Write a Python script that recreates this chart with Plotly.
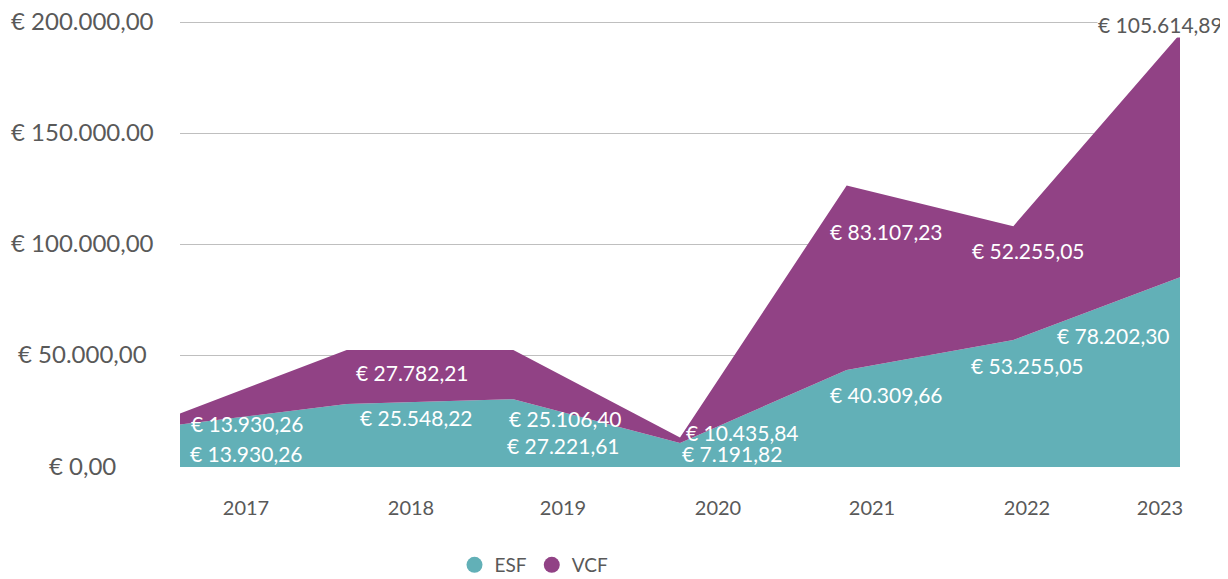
import plotly.graph_objects as go

# ---------------- data ----------------
years = ["2017", "2018", "2019", "2020", "2021", "2022", "2023"]
# values as drawn
esf_values = [19100, 28300, 30500, 10800, 43600, 57100, 85300]
vcf_values = [5000, 24300, 22100, 2500, 83000, 51200, 109400]
# data label texts as printed on the chart
esf_labels = ["€ 13.930,26", "€ 25.548,22", "€ 27.221,61", "€ 7.191,82",
              "€ 40.309,66", "€ 53.255,05", "€ 78.202,30"]
vcf_labels = ["€ 13.930,26", "€ 27.782,21", "€ 25.106,40", "€ 10.435,84",
              "€ 83.107,23", "€ 52.255,05", "€ 105.614,89"]
y_tick_values = [0, 50000, 100000, 150000, 200000]
y_tick_labels = ["€ 0,00", "€ 50.000,00", "€ 100.000,00", "€ 150.000.00", "€ 200.000,00"]

# ---------------- layout constants ----------------
OFF = 8  # default page body margin
W, H = 1220, 579
ML, MR, MT, MB = 172, 48, 12, 120
PW, PH = W - ML - MR, H - MT - MB
Y_MAX = 201000  # a little above the top gridline so it is drawn
FONT = "Lato"
GREY = "#595959"
TEAL = "#62B0B7"
PURPLE = "#914285"

# x positions of the category labels (in axis units)
xlabel_pos = [0.396, 1.386, 2.298, 3.228, 4.152, 5.082, 5.88]
# data label centres in page pixels
esf_label_px = [(246, 453), (416, 417), (563, 445), (732, 453), (886, 394), (1027, 365), (1113, 335)]
vcf_label_px = [(247, 423), (412, 373), (565, 418), (742, 432), (886, 232), (1028, 250), (1160, 25)]


def px2paper(px, py):
    return (px - OFF - ML) / PW, (H - MB - (py - OFF)) / PH


xs = list(range(len(years)))

fig = go.Figure()
fig.add_trace(go.Scatter(x=xs, y=esf_values, name="ESF", stackgroup="one", mode="none",
                         fillcolor=TEAL, line=dict(width=0), showlegend=False, hoverinfo="skip"))
fig.add_trace(go.Scatter(x=xs, y=vcf_values, name="VCF", stackgroup="one", mode="none",
                         fillcolor=PURPLE, line=dict(width=0), showlegend=False, hoverinfo="skip"))
# legend entries (circles)
for nm, col in (("ESF", TEAL), ("VCF", PURPLE)):
    fig.add_trace(go.Scatter(x=[None], y=[None], name=nm, mode="markers",
                             marker=dict(symbol="circle", size=16, color=col)))

annotations = []
for txt, (px, py) in zip(esf_labels, esf_label_px):
    x, y = px2paper(px, py)
    annotations.append(dict(x=x, y=y, xref="paper", yref="paper", text=txt, showarrow=False,
                            xanchor="center", yanchor="middle",
                            font=dict(family=FONT, size=21, color="white")))
for i, (txt, (px, py)) in enumerate(zip(vcf_labels, vcf_label_px)):
    x, y = px2paper(px, py)
    last = i == len(vcf_labels) - 1
    annotations.append(dict(x=x, y=y, xref="paper", yref="paper", text=txt, showarrow=False,
                            xanchor="center", yanchor="middle",
                            bgcolor="white" if last else None, borderpad=0,
                            font=dict(family=FONT, size=21, color=GREY if last else "white")))
for v, t in zip(y_tick_values, y_tick_labels):
    annotations.append(dict(x=px2paper(82, 0)[0], y=v, xref="paper", yref="y", text=t, showarrow=False,
                            xanchor="center", yanchor="middle", yshift=2,
                            font=dict(family=FONT, size=24, color=GREY)))

fig.update_layout(
    width=W, height=H,
    margin=dict(l=ML, r=MR, t=MT, b=MB, autoexpand=False),
    paper_bgcolor="white", plot_bgcolor="white",
    font=dict(family=FONT, color=GREY),
    xaxis=dict(range=[0, 6], tickmode="array", tickvals=xlabel_pos, ticktext=years,
               showgrid=False, zeroline=False, showline=False, ticks="",
               tickfont=dict(family=FONT, size=20, color=GREY), ticklabelstandoff=27),
    yaxis=dict(range=[0, Y_MAX], tickmode="array", tickvals=y_tick_values,
               showticklabels=False, showgrid=True, gridcolor="#BFBFBF", gridwidth=1,
               zeroline=False, showline=False, ticks=""),
    legend=dict(orientation="h", x=(534 - OFF) / W, y=(H - (565 - OFF)) / H,
                xref="container", yref="container",
                xanchor="center", yanchor="middle", traceorder="normal",
                font=dict(family=FONT, size=19, color=GREY), itemsizing="trace"),
    annotations=annotations,
)

fig.write_html("out.html")
